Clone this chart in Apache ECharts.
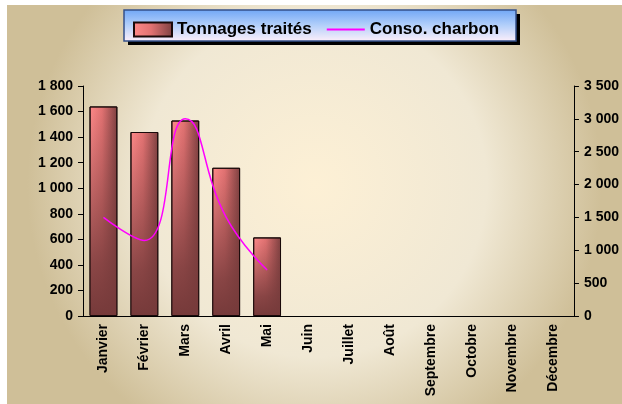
<!DOCTYPE html>
<html>
<head>
<meta charset="utf-8">
<script src="https://cdn.jsdelivr.net/npm/echarts@6/dist/echarts.min.js"></script>
<style>
  html, body { margin: 0; padding: 0; background: #fff; }
  #chart { width: 622px; height: 404px; }
</style>
</head>
<body>
<div id="chart"></div>
<script>
// mois de l'année
var mois = ['Janvier', 'Février', 'Mars', 'Avril', 'Mai', 'Juin', 'Juillet',
    'Août', 'Septembre', 'Octobre', 'Novembre', 'Décembre'];
// tonnages traités (axe gauche)
var tonnages = [1640, 1440, 1530, 1160, 615, null, null, null, null, null, null, null];
// consommation de charbon (axe droit)
var conso = [1500, 1150, 3000, 1500, 700, null, null, null, null, null, null, null];

var fontFam = '"Liberation Sans", Arial, sans-serif';

// séparateur de milliers "1 800"
function fmt(v) {
    return String(v).replace(/\B(?=(\d{3})+(?!\d))/g, ' ');
}

var chart = echarts.init(document.getElementById('chart'));

var option = {
    animation: false,
    graphic: [
        {   // fond dégradé
            type: 'rect', z: -10, silent: true,
            shape: {x: 7, y: 5, width: 615, height: 399},
            style: {
                fill: {
                    type: 'radial', x: 0.5, y: 0.45, r: 0.72,
                    colorStops: [
                        {offset: 0, color: '#fdf0d5'},
                        {offset: 0.6, color: '#f0e8d4'},
                        {offset: 1, color: '#cfbf98'}
                    ]
                }
            }
        },
        {   // ombre de la légende
            type: 'rect', z: -5, silent: true,
            shape: {x: 128, y: 14, width: 392, height: 31},
            style: {fill: '#000'}
        },
        {   // cadre de la légende
            type: 'rect', z: -4, silent: true,
            shape: {x: 124, y: 10, width: 392, height: 31},
            style: {
                stroke: '#34508a', lineWidth: 1.5,
                fill: {
                    type: 'linear', x: 0, y: 0, x2: 0, y2: 1,
                    colorStops: [
                        {offset: 0, color: '#6fa6f6'},
                        {offset: 0.5, color: '#b4d0fa'},
                        {offset: 1, color: '#fff0fa'}
                    ]
                }
            }
        }
    ],
    legend: {
        data: [
            {name: 'Tonnages traités', icon: 'rect'},
            {name: 'Conso. charbon', itemStyle: {color: 'rgba(0,0,0,0)', borderWidth: 0, opacity: 0}}
        ],
        left: 128, top: 16,
        itemWidth: 38, itemHeight: 14, itemGap: 14,
        textStyle: {fontFamily: fontFam, fontWeight: 'bold', fontSize: 17, color: '#000'}
    },
    grid: {left: 83, right: 45, top: 86, bottom: 88},
    xAxis: {
        type: 'category',
        data: mois,
        axisLine: {lineStyle: {color: '#000', width: 1}},
        axisTick: {length: 5, lineStyle: {color: '#000'}},
        axisLabel: {
            rotate: 90, margin: 8,
            fontFamily: fontFam, fontWeight: 'bold', fontSize: 14, color: '#000'
        }
    },
    yAxis: [
        {
            type: 'value', min: 0, max: 1800, interval: 200,
            axisLine: {show: true, lineStyle: {color: '#000'}},
            axisTick: {show: true, length: 5, lineStyle: {color: '#000'}},
            splitLine: {show: false},
            axisLabel: {
                formatter: fmt, margin: 10,
                fontFamily: fontFam, fontWeight: 'bold', fontSize: 14, color: '#000'
            }
        },
        {
            type: 'value', min: 0, max: 3500, interval: 500,
            axisLine: {show: true, lineStyle: {color: '#000'}},
            axisTick: {show: true, length: 5, lineStyle: {color: '#000'}},
            splitLine: {show: false},
            axisLabel: {
                formatter: fmt, margin: 10,
                fontFamily: fontFam, fontWeight: 'bold', fontSize: 14, color: '#000'
            }
        }
    ],
    series: [
        {
            name: 'Tonnages traités',
            type: 'bar',
            data: tonnages,
            barWidth: '68%',
            itemStyle: {
                borderColor: '#1a0a0a', borderWidth: 1,
                color: {
                    type: 'linear', x: 0, y: 0, x2: 1, y2: 0,
                    colorStops: [
                        {offset: 0, color: '#ff8a8a'},
                        {offset: 0.45, color: '#e27272'},
                        {offset: 1, color: '#7c4040'}
                    ]
                }
            }
        },
        {   // assombrissement vers le bas
            name: 'ombre',
            type: 'bar',
            data: tonnages,
            barWidth: '68%',
            barGap: '-100%',
            silent: true,
            itemStyle: {
                borderColor: '#1a0a0a', borderWidth: 1,
                color: {
                    type: 'linear', x: 0, y: 0, x2: 0, y2: 1,
                    colorStops: [
                        {offset: 0, color: 'rgba(120,60,60,0)'},
                        {offset: 0.75, color: 'rgba(120,60,60,0.85)'},
                        {offset: 1, color: 'rgba(118,58,58,1)'}
                    ]
                }
            }
        },
        {
            name: 'Conso. charbon',
            type: 'line',
            yAxisIndex: 1,
            data: conso,
            smooth: 0.5,
            symbol: 'none',
            lineStyle: {color: '#ff00ff', width: 1.5},
            itemStyle: {color: '#ff00ff'},
            z: 5
        }
    ]
};

chart.setOption(option);
</script>
</body>
</html>
